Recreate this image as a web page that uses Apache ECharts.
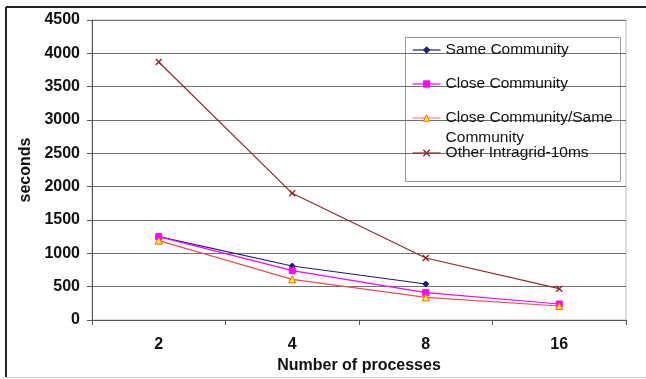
<!DOCTYPE html>
<html>
<head>
<meta charset="utf-8">
<script src="https://cdn.jsdelivr.net/npm/echarts@6/dist/echarts.min.js"></script>
<style>
  html, body { margin: 0; padding: 0; background: #fff; }
  #chart { width: 646px; height: 379px; }
</style>
</head>
<body>
<div id="chart"></div>
<script>
// Run times per number of processes
const categories = ['2', '4', '8', '16'];
const sameCommunity = [1250, 810, 540, null];
const closeCommunity = [1250, 740, 410, 240];
const closeSameCommunity = [1190, 610, 340, 210];
const otherIntragrid = [3870, 1900, 930, 470];
const yTicks = [0, 500, 1000, 1500, 2000, 2500, 3000, 3500, 4000, 4500];

const FONT = 'Liberation Sans, Arial, sans-serif';
const crossPath = 'path://M0,0L10,10M10,0L0,10';

const seriesDefs = [
  { name: 'Same Community', data: sameCommunity, color: '#1a1a80', symbol: 'diamond', size: 6, fill: '#1a1a80', border: '#1a1a80' },
  { name: 'Close Community', data: closeCommunity, color: '#ff00ff', symbol: 'rect', size: 6, fill: '#ff00ff', border: '#ff00ff' },
  { name: 'Close Community/Same Community', data: closeSameCommunity, color: '#e8504a', legendColor: '#f08a8a', symbol: 'triangle', size: 7, fill: '#ffff00', border: '#ff5a1a' },
  { name: 'Other Intragrid-10ms', data: otherIntragrid, color: '#8e2a2a', symbol: crossPath, size: 6, fill: 'none', border: '#8e2a2a' }
];

// vertical centre of each legend row
const legendCenters = [50, 84, 118, 153];

const chart = echarts.init(document.getElementById('chart'), null, { renderer: 'canvas' });

chart.setOption({
  animation: false,
  backgroundColor: '#ffffff',
  grid: { left: 92, right: 20, top: 20, bottom: 59, show: true, borderColor: '#bdbdbd', borderWidth: 1 },
  xAxis: {
    type: 'category',
    data: categories,
    boundaryGap: true,
    name: 'Number of processes',
    nameLocation: 'middle',
    nameGap: 36,
    nameTextStyle: { fontFamily: FONT, fontSize: 16, fontWeight: 'bold', color: '#111' },
    axisLine: { lineStyle: { color: '#555', width: 1 } },
    axisTick: { show: true, length: 5, inside: false, lineStyle: { color: '#555' } },
    axisLabel: { fontFamily: FONT, fontSize: 16, fontWeight: 'bold', color: '#111', margin: 17 },
    splitLine: { show: false }
  },
  yAxis: {
    type: 'value',
    min: yTicks[0],
    max: yTicks[yTicks.length - 1],
    interval: 500,
    name: 'seconds',
    nameLocation: 'middle',
    nameGap: 57,
    nameTextStyle: { fontFamily: FONT, fontSize: 16, fontWeight: 'bold', color: '#111' },
    axisLine: { show: true, lineStyle: { color: '#555', width: 1 } },
    axisTick: { show: true, length: 5, lineStyle: { color: '#555' } },
    axisLabel: { fontFamily: FONT, fontSize: 16, fontWeight: 'bold', color: '#111', margin: 12, formatter: v => String(v) },
    splitLine: { show: true, lineStyle: { color: '#707070', width: 1 } }
  },
  legend: seriesDefs.map((s, i) => {
    const wrapped = i === 2;
    const lh = wrapped ? 20 : 16;
    const lines = wrapped ? 3 : 1;
    return {
      data: [{
        name: s.name,
        itemStyle: { color: s.fill, borderColor: s.border, borderWidth: s.symbol === crossPath ? 1.5 : 1 },
        lineStyle: { color: s.legendColor || s.color, width: 1.2 }
      }],
      left: 412,
      top: legendCenters[i] - (lh * lines) / 2,
      orient: 'vertical',
      itemWidth: 28,
      itemHeight: 8,
      itemGap: 0,
      padding: 0,
      selectedMode: false,
      // leading blank line keeps the marker level with the first text line
      formatter: wrapped ? '\nClose Community/Same\nCommunity' : undefined,
      textStyle: { fontFamily: FONT, fontSize: 15.5, color: '#111', lineHeight: lh }
    };
  }),
  graphic: [
    // outer frame
    { type: 'line', shape: { x1: 6, y1: 7, x2: 646, y2: 7 }, style: { stroke: '#222', lineWidth: 2 }, silent: true },
    { type: 'line', shape: { x1: 6, y1: 7, x2: 6, y2: 377 }, style: { stroke: '#222', lineWidth: 2 }, silent: true },
    { type: 'line', shape: { x1: 6, y1: 377.5, x2: 646, y2: 377.5 }, style: { stroke: '#c8c8c8', lineWidth: 1 }, silent: true },
    // legend box
    { type: 'rect', shape: { x: 405.5, y: 37.5, width: 215, height: 144 }, style: { fill: '#fff', stroke: '#9a9a9a', lineWidth: 1 }, z: -1, silent: true }
  ],
  series: seriesDefs.map(s => ({
    name: s.name,
    type: 'line',
    data: s.data,
    symbol: s.symbol,
    symbolSize: s.size,
    showSymbol: true,
    connectNulls: false,
    lineStyle: { color: s.color, width: 1.2 },
    itemStyle: { color: s.fill, borderColor: s.border, borderWidth: s.symbol === crossPath ? 1.5 : 1 },
    color: s.legendColor || s.color,
    emphasis: { disabled: true }
  }))
});
</script>
</body>
</html>
